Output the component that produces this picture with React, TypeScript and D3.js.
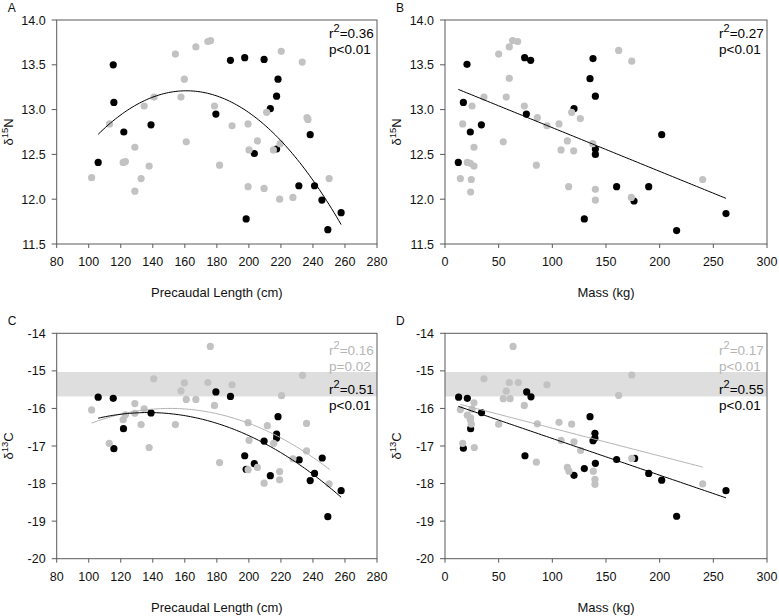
import React from "react";
import * as d3 from "d3";

// ---------------- DATA ----------------
// Panel A: precaudal length (cm) vs d15N
const aBlackLen = [105.9,115.3,115.7,121.9,138.9,179.4,188.5,197.4,209.5,198.3,203.4,213.4,218.2,217.3,217.3,231.2,238.3,241.0,245.6,249.3,257.6];
const aBlackN = [12.41,13.50,13.08,12.75,12.83,12.95,13.55,13.58,13.56,11.78,12.51,13.01,13.34,13.15,12.56,12.15,12.72,12.15,11.99,11.66,11.85];
const aGrayLen = [101.8,113.0,121.5,122.9,128.8,128.8,132.7,134.6,137.7,140.8,154.1,157.6,159.7,160.9,166.9,174.4,176.1,178.5,181.7,189.5,199.5,199.5,200.1,205.3,209.5,211.1,215.3,219.5,220.2,219.2,227.5,233.3,236.3,236.9,250.1];
const aGrayN = [12.24,12.84,12.41,12.42,12.58,12.09,12.23,13.04,12.37,13.14,13.62,13.14,13.34,12.64,13.70,13.76,13.77,13.04,12.38,12.82,12.84,12.14,12.55,12.65,12.12,12.97,12.55,12.62,13.65,12.00,12.02,13.53,12.91,12.89,12.23];

// Panel B: mass (kg) vs d15N
const bBlackMass = [12.4,20.5,17.1,23.6,33.9,75.8,74.2,79.8,120.2,129.8,135.1,137.9,140.1,140.1,140.1,159.9,176.1,189.8,201.9,215.8,261.8];
const bBlackN = [12.41,13.505,13.08,12.75,12.83,12.95,13.58,13.55,13.01,11.78,13.345,13.57,13.15,12.56,12.50,12.14,11.98,12.14,12.72,11.65,11.84];
const bGrayMass = [14.3,16.5,20.8,23.6,25.2,27.0,24.5,23.9,27.0,36.3,50.0,54.3,57.1,59.9,59.9,63.0,67.7,73.9,85.1,86.0,95.0,106.2,108.1,115.2,114.0,118.0,119.9,126.1,137.6,140.1,140.1,161.8,174.0,173.6,240.1];
const bGrayN = [12.23,12.84,12.41,12.40,13.04,12.58,12.22,12.08,12.37,13.14,13.62,12.64,13.14,13.35,13.70,13.77,13.76,13.04,12.38,12.91,12.82,12.84,12.55,12.14,12.65,12.97,12.54,12.90,12.62,12.11,11.99,13.66,13.54,12.02,12.22];

// Panel C: precaudal length (cm) vs d13C
const cBlackLen = [105.9,115.3,115.7,121.7,138.9,179.4,188.5,197.4,203.4,209.5,213.4,217.3,217.3,218.2,231.4,238.3,241.0,245.8,249.3,257.6,198.3];
const cBlackC = [-15.70,-15.73,-17.07,-16.54,-16.12,-15.56,-15.68,-17.26,-17.47,-16.87,-17.79,-16.68,-16.79,-16.22,-17.37,-17.92,-17.73,-17.32,-18.88,-18.19,-17.62];
const cGrayLen = [101.8,112.8,121.5,122.9,128.8,128.8,132.7,134.6,137.7,140.6,154.1,157.6,159.7,160.9,166.9,174.4,175.9,178.5,181.7,189.5,199.5,200.1,199.5,205.3,209.5,211.5,215.5,219.2,219.2,220.4,227.5,233.5,236.0,236.0,250.1];
const cGrayC = [-16.04,-16.93,-16.30,-16.17,-15.87,-16.13,-16.43,-16.01,-17.04,-15.21,-16.43,-15.53,-15.32,-15.76,-15.76,-15.31,-14.35,-15.92,-17.44,-15.37,-16.38,-16.85,-17.63,-17.57,-17.99,-16.46,-16.93,-17.68,-17.90,-15.66,-17.34,-15.12,-16.40,-17.13,-18.01];

// Panel D: mass (kg) vs d13C
const dBlackMass = [12.7,20.8,17.1,23.9,34.0,74.5,76.1,80.1,120.2,129.8,135.1,137.9,139.7,139.7,140.1,159.9,176.7,189.8,201.9,215.8,261.8];
const dBlackC = [-15.70,-15.73,-17.06,-16.54,-16.11,-17.26,-15.56,-15.69,-17.78,-17.60,-16.22,-16.86,-16.66,-16.79,-17.46,-17.36,-17.33,-17.73,-17.91,-18.87,-18.19];
const dGrayMass = [14.3,16.5,20.8,23.6,25.2,24.5,23.9,27.0,27.3,36.3,50.0,54.3,57.1,59.9,60.6,63.4,68.3,73.9,85.1,86.0,95.0,106.2,108.1,114.0,115.5,118.0,120.2,126.4,138.2,139.7,139.7,161.8,174.0,174.0,240.1];
const dGrayC = [-16.03,-16.93,-16.18,-16.30,-16.02,-16.42,-16.25,-15.85,-17.04,-15.21,-16.42,-15.74,-15.54,-15.31,-15.74,-14.35,-15.31,-15.92,-17.43,-16.41,-15.37,-16.37,-16.85,-17.57,-17.67,-16.42,-16.89,-17.12,-17.67,-17.89,-18.02,-15.65,-15.11,-17.33,-18.01];

// Regression fits: y = c0 + c1*x + c2*x^2 over [from, to]
const fitACoef = [9.0626, 0.05152, -0.00016];
const fitARange = [105.9, 257.6];
const fitBCoef = [13.286, -0.004876, 0];
const fitBRange = [12.4, 261.8];
const fitCBlackCoef = [-19.019, 0.04247, -0.000155];
const fitCBlackRange = [105.9, 257.6];
const fitCGrayCoef = [-19.711, 0.049249, -0.0001634];
const fitCGrayRange = [101.8, 250.5];
const fitDBlackCoef = [-15.823, -0.00977, 0];
const fitDBlackRange = [12.4, 261.8];
const fitDGrayCoef = [-15.787, -0.00739, 0];
const fitDGrayRange = [14.3, 240.1];

// Shaded band of d13C
const bandC = [-15.68, -15.03];

// Ticks
const lenTicks = [80, 100, 120, 140, 160, 180, 200, 220, 240, 260, 280];
const massTicks = [0, 50, 100, 150, 200, 250, 300];
const nTicks = [11.5, 12.0, 12.5, 13.0, 13.5, 14.0];
const cTicks = [-20, -19, -18, -17, -16, -15, -14];

// Stats text
const statsA = [{ r2: "0.36", p: "p<0.01", tone: "black" }];
const statsB = [{ r2: "0.27", p: "p<0.01", tone: "black" }];
const statsC = [{ r2: "0.16", p: "p=0.02", tone: "gray" }, { r2: "0.51", p: "p<0.01", tone: "black" }];
const statsD = [{ r2: "0.17", p: "p<0.01", tone: "gray" }, { r2: "0.55", p: "p<0.01", tone: "black" }];

// ---------------- STYLE ----------------
const FONT = "'Liberation Sans', Arial, Helvetica, sans-serif";
const BLACK = "#000000";
const GRAY = "#c2c2c2";
const GRAY_TEXT = "#b5b5b5";
const GRAY_LINE = "#b3b3b3";
const FRAME = "#5a5a5a";
const BAND = "#dedede";

type Fit = { coef: number[]; range: number[]; color: string };

type PanelProps = {
  letter: string;
  left: number; right: number; top: number; bottom: number;
  xDomain: [number, number]; yDomain: [number, number];
  xTicks: number[]; yTicks: number[]; yFmt: (v: number) => string;
  xTitle: string; iso: string; elem: string;
  band?: number[];
  bx: number[]; by: number[]; gx: number[]; gy: number[];
  fits: Fit[];
  stats: { r2: string; p: string; tone: string }[];
  statsTop: number;
};

function Panel(p: PanelProps) {
  const x = d3.scaleLinear().domain(p.xDomain).range([p.left, p.right]);
  const y = d3.scaleLinear().domain(p.yDomain).range([p.bottom, p.top]);
  const cy = (p.top + p.bottom) / 2;
  const cx = (p.left + p.right) / 2;
  const fitPath = (f: Fit) => {
    const xs = d3.range(0, 101).map((i) => f.range[0] + ((f.range[1] - f.range[0]) * i) / 100);
    const gen = d3
      .line<number>()
      .x((v) => x(v))
      .y((v) => y(f.coef[0] + f.coef[1] * v + f.coef[2] * v * v));
    return gen(xs) || "";
  };
  let sy = p.top + p.statsTop;
  const statEls: React.ReactNode[] = [];
  p.stats.forEach((s, i) => {
    const col = s.tone === "gray" ? GRAY_TEXT : BLACK;
    const tx = p.right - 48;
    statEls.push(
      <text key={"r" + i} x={tx} y={sy} fontSize={13.5} fill={col} fontFamily={FONT}>
        <tspan>r</tspan>
        <tspan dy={-6} fontSize={11}>2</tspan>
        <tspan dy={6}>={s.r2}</tspan>
      </text>
    );
    statEls.push(
      <text key={"p" + i} x={tx} y={sy + 15.5} fontSize={13.5} fill={col} fontFamily={FONT}>
        {s.p}
      </text>
    );
    sy += 39;
  });

  return (
    <g>
      {p.band && (
        <rect
          x={p.left}
          y={y(p.band[1])}
          width={p.right - p.left}
          height={y(p.band[0]) - y(p.band[1])}
          fill={BAND}
        />
      )}
      {p.bx.map((v, i) => (
        <circle key={"b" + i} cx={x(v)} cy={y(p.by[i])} r={3.6} fill={BLACK} />
      ))}
      {p.gx.map((v, i) => (
        <circle key={"g" + i} cx={x(v)} cy={y(p.gy[i])} r={3.6} fill={GRAY} />
      ))}
      {p.fits.map((f, i) => (
        <path key={"f" + i} d={fitPath(f)} fill="none" stroke={f.color} strokeWidth={1} />
      ))}
      <rect x={p.left} y={p.top} width={p.right - p.left} height={p.bottom - p.top} fill="none" stroke={FRAME} strokeWidth={1} />
      {p.xTicks.map((t) => (
        <g key={"xt" + t}>
          <line x1={x(t)} x2={x(t)} y1={p.bottom} y2={p.bottom + 4} stroke={FRAME} />
          <text x={x(t)} y={p.bottom + 22} textAnchor="middle" fontSize={12.5} fontFamily={FONT} fill="#111">
            {String(t)}
          </text>
        </g>
      ))}
      {p.yTicks.map((t) => (
        <g key={"yt" + t}>
          <line x1={p.left - 5} x2={p.left} y1={y(t)} y2={y(t)} stroke={FRAME} />
          <text x={p.left - 11} y={y(t) + 4.5} textAnchor="end" fontSize={12.5} fontFamily={FONT} fill="#111">
            {p.yFmt(t)}
          </text>
        </g>
      ))}
      <text x={cx} y={p.bottom + 53} textAnchor="middle" fontSize={13} fontFamily={FONT} fill="#111">
        {p.xTitle}
      </text>
      <text
        transform={`translate(${p.left - 44},${cy}) rotate(-90)`}
        textAnchor="middle"
        fontSize={13}
        fontFamily={FONT}
        fill="#111"
      >
        <tspan>δ</tspan>
        <tspan dy={-5} fontSize={9.5}>{p.iso}</tspan>
        <tspan dy={5}>{p.elem}</tspan>
      </text>
      <text x={p.left - 49} y={p.top - 8} fontSize={12} fontFamily={FONT} fill="#111">
        {p.letter}
      </text>
      {statEls}
    </g>
  );
}

export default function App() {
  const f1 = d3.format(".1f");
  const fi = (v: number) => String(v);
  const L1 = 56.7, R1 = 377, L2 = 445, R2 = 767;
  const T1 = 20, B1 = 244, T2 = 333.3, B2 = 558.7;
  return (
    <svg
      width={779}
      height={616}
      style={{ position: "absolute", left: 0, top: 0, background: "#fff" }}
    >
      <rect x={0} y={0} width={779} height={616} fill="#fff" />
      <Panel
        letter="A" left={L1} right={R1} top={T1} bottom={B1}
        xDomain={[80, 280]} yDomain={[11.5, 14]}
        xTicks={lenTicks} yTicks={nTicks} yFmt={f1}
        xTitle="Precaudal Length (cm)" iso="15" elem="N"
        bx={aBlackLen} by={aBlackN} gx={aGrayLen} gy={aGrayN}
        fits={[{ coef: fitACoef, range: fitARange, color: BLACK }]}
        stats={statsA} statsTop={18}
      />
      <Panel
        letter="B" left={L2} right={R2} top={T1} bottom={B1}
        xDomain={[0, 300]} yDomain={[11.5, 14]}
        xTicks={massTicks} yTicks={nTicks} yFmt={f1}
        xTitle="Mass (kg)" iso="15" elem="N"
        bx={bBlackMass} by={bBlackN} gx={bGrayMass} gy={bGrayN}
        fits={[{ coef: fitBCoef, range: fitBRange, color: BLACK }]}
        stats={statsB} statsTop={18}
      />
      <Panel
        letter="C" left={L1} right={R1} top={T2} bottom={B2}
        xDomain={[80, 280]} yDomain={[-20, -14]}
        xTicks={lenTicks} yTicks={cTicks} yFmt={fi}
        xTitle="Precaudal Length (cm)" iso="13" elem="C"
        band={bandC}
        bx={cBlackLen} by={cBlackC} gx={cGrayLen} gy={cGrayC}
        fits={[
          { coef: fitCGrayCoef, range: fitCGrayRange, color: GRAY_LINE },
          { coef: fitCBlackCoef, range: fitCBlackRange, color: BLACK },
        ]}
        stats={statsC} statsTop={22}
      />
      <Panel
        letter="D" left={L2} right={R2} top={T2} bottom={B2}
        xDomain={[0, 300]} yDomain={[-20, -14]}
        xTicks={massTicks} yTicks={cTicks} yFmt={fi}
        xTitle="Mass (kg)" iso="13" elem="C"
        band={bandC}
        bx={dBlackMass} by={dBlackC} gx={dGrayMass} gy={dGrayC}
        fits={[
          { coef: fitDGrayCoef, range: fitDGrayRange, color: GRAY_LINE },
          { coef: fitDBlackCoef, range: fitDBlackRange, color: BLACK },
        ]}
        stats={statsD} statsTop={22}
      />
    </svg>
  );
}
